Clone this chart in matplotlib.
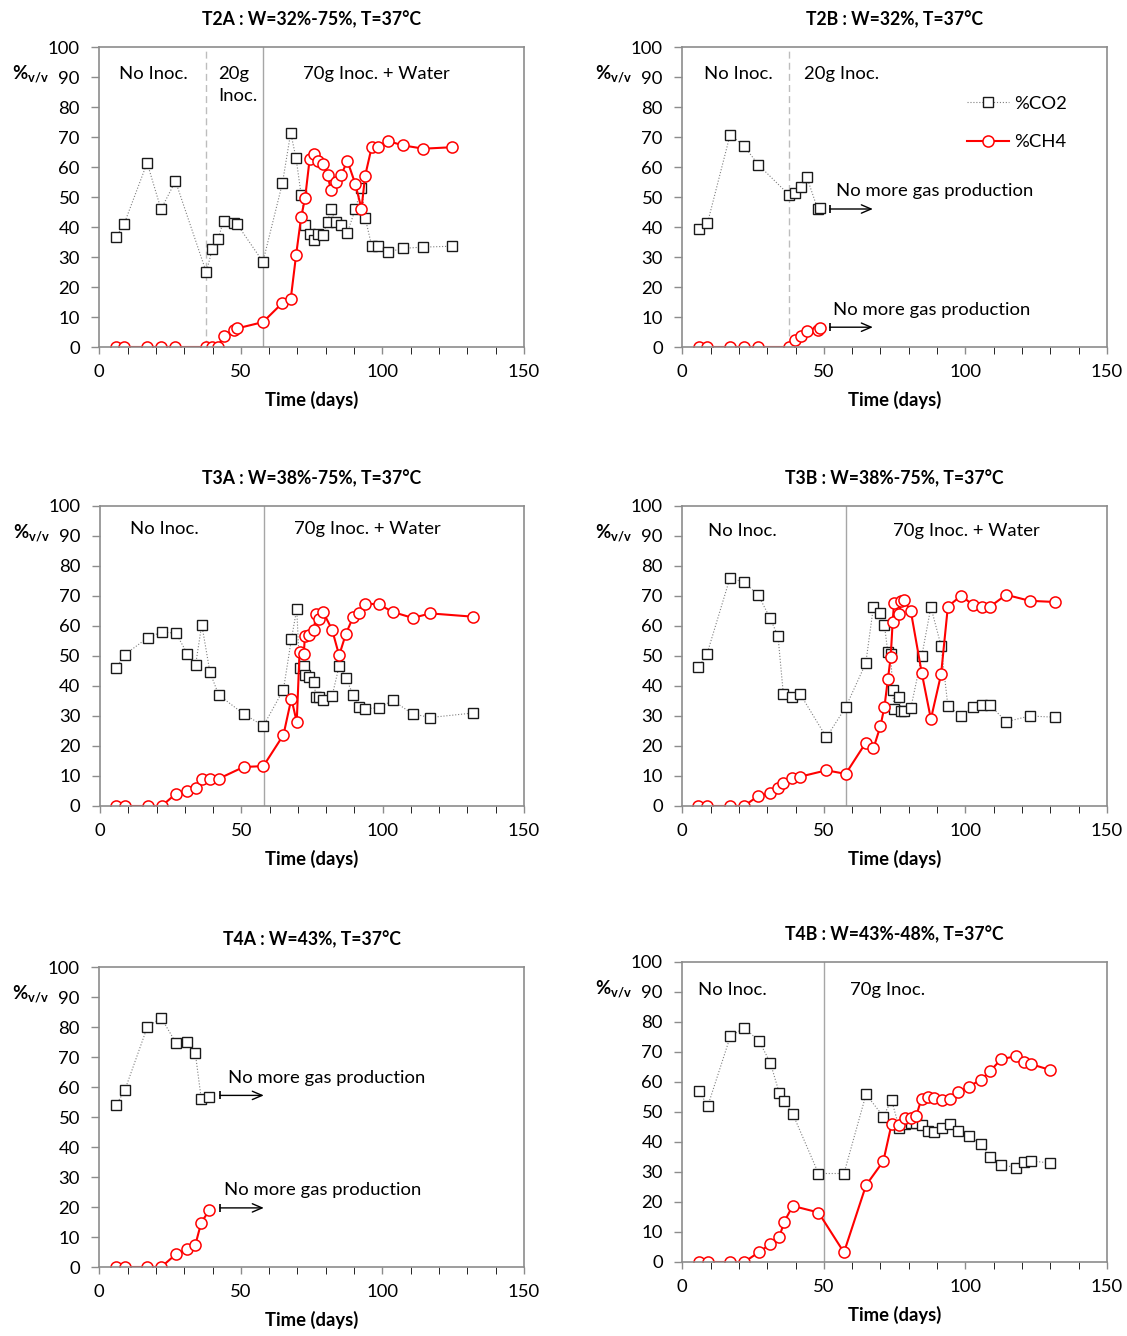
import matplotlib
matplotlib.use("Agg")
import matplotlib.pyplot as plt

plt.rcParams['font.family'] = ['Lato', 'DejaVu Sans']
plt.rcParams['mathtext.fontset'] = 'custom'
plt.rcParams['mathtext.rm'] = 'Lato'
plt.rcParams['mathtext.bf'] = 'Lato:bold'

W, H = 1127, 1336

# ---- data (day, %v/v) ----
t2a_days = [5.9, 8.8, 16.9, 21.8, 26.9, 37.8, 39.9, 41.9, 43.9, 47.5, 48.7, 57.8, 64.7, 67.6, 69.5,
            71.3, 72.7, 74.3, 75.8, 77.4, 78.9, 80.6, 81.8, 83.5, 85.5, 87.6, 90.4, 92.6, 93.9, 96.2,
            98.6, 101.8, 107.3, 114.5, 124.7]
t2a_co2 = [36.7, 41.1, 61.4, 45.9, 55.3, 24.9, 32.7, 35.9, 42.1, 41.4, 40.9, 28.4, 54.7, 71.4, 62.9,
           50.7, 40.7, 37.8, 35.7, 37.7, 37.3, 41.7, 46.0, 41.7, 40.7, 38.1, 45.9, 53.1, 43.1, 33.7,
           33.7, 31.6, 32.9, 33.3, 33.6]
t2a_ch4 = [0, 0, 0, 0, 0, 0, 0, 0, 3.8, 5.6, 6.2, 8.3, 14.7, 15.9, 30.6,
           43.4, 49.7, 62.7, 64.4, 62.1, 61.1, 57.4, 52.3, 54.9, 57.4, 62.1, 54.4, 46.1, 57.1, 66.6,
           66.6, 68.7, 67.2, 66.1, 66.6]

t2b_days = [5.9, 8.9, 16.9, 21.9, 26.9, 37.6, 39.8, 41.9, 44.0, 47.8, 48.8]
t2b_co2 = [39.4, 41.3, 70.8, 66.9, 60.7, 50.8, 51.4, 53.4, 56.6, 46.0, 46.2]
t2b_ch4 = [0, 0, 0, 0, 0, 0, 2.2, 3.8, 5.4, 5.6, 6.2]

t3a_days = [5.7, 8.8, 16.9, 21.8, 26.9, 30.9, 33.8, 36.0, 38.9, 42.0, 50.8, 57.8, 64.9, 67.7, 69.6,
            70.6, 72.1, 72.5, 73.9, 75.7, 76.4, 77.6, 78.9, 82.1, 84.6, 87.0, 89.6, 91.5, 93.9, 98.7,
            103.5, 110.6, 116.9, 132.0]
t3a_co2 = [46.1, 50.5, 56.1, 58.0, 57.6, 50.7, 46.9, 60.5, 44.6, 37.0, 30.7, 26.7, 38.8, 55.6, 65.6,
           46.1, 46.7, 43.6, 43.0, 41.4, 36.2, 36.5, 35.3, 36.6, 46.7, 42.7, 36.9, 33.0, 32.5, 32.7,
           35.2, 30.7, 29.5, 31.0]
t3a_ch4 = [0, 0, 0, 0, 4.1, 4.9, 5.9, 9.1, 9.1, 9.1, 13.0, 13.3, 23.7, 35.8, 28.0,
           51.3, 50.8, 56.7, 57.1, 58.8, 64.1, 62.4, 64.7, 58.8, 50.2, 57.4, 63.1, 64.4, 67.5, 67.2,
           64.7, 62.7, 64.2, 63.1]

t3b_days = [5.7, 8.7, 16.8, 21.8, 26.9, 30.9, 33.8, 35.7, 38.8, 41.7, 50.9, 57.7, 64.8, 67.5, 70.0,
            71.4, 72.6, 73.6, 74.3, 74.8, 76.7, 77.2, 78.2, 80.7, 84.6, 87.8, 91.4, 93.8, 98.5, 102.7,
            105.8, 108.6, 114.4, 122.7, 131.7]
t3b_co2 = [46.2, 50.6, 75.9, 74.7, 70.2, 62.8, 56.6, 37.2, 36.3, 37.2, 22.9, 32.9, 47.6, 66.4, 64.4,
           60.2, 51.2, 50.6, 38.6, 32.5, 36.4, 31.7, 31.7, 32.6, 50.1, 66.3, 53.4, 33.4, 29.9, 33.0,
           33.6, 33.7, 28.1, 30.0, 29.6]
t3b_ch4 = [0, 0, 0, 0, 3.4, 4.2, 5.9, 7.8, 9.5, 9.8, 11.9, 10.7, 21.1, 19.2, 26.7,
           33.1, 42.2, 49.6, 61.4, 67.8, 63.9, 68.4, 68.7, 65.0, 44.2, 29.0, 43.9, 66.5, 70.1, 67.0,
           66.5, 66.4, 70.4, 68.4, 68.0]

t4a_days = [5.9, 9.0, 17.0, 21.9, 27.0, 31.0, 33.9, 36.0, 38.9]
t4a_co2 = [54.0, 58.9, 80.1, 83.0, 74.8, 75.1, 71.4, 56.1, 56.8]
t4a_ch4 = [0, 0, 0, 0, 4.2, 5.9, 7.3, 14.8, 19.0]

t4b_days = [5.9, 9.0, 17.0, 21.9, 27.1, 31.1, 34.2, 36.0, 39.0, 48.1, 57.1, 64.9, 71.0, 73.9, 76.6,
            78.7, 80.6, 82.6, 84.5, 86.7, 88.8, 91.6, 94.5, 97.5, 101.1, 105.5, 108.8, 112.6, 117.8,
            120.8, 123.0, 130.0]
t4b_co2 = [57.0, 52.0, 75.3, 78.0, 73.7, 66.4, 56.5, 53.7, 49.4, 29.5, 29.5, 55.9, 48.5, 54.0, 44.8,
           46.0, 46.5, 46.2, 45.7, 43.8, 43.2, 44.8, 45.9, 43.6, 42.0, 39.2, 35.1, 32.5, 31.4,
           33.4, 33.7, 33.0]
t4b_ch4 = [0, 0, 0, 0, 3.3, 6.0, 8.2, 13.4, 18.7, 16.5, 3.2, 25.6, 33.6, 45.9, 45.8,
           47.9, 47.9, 48.6, 54.5, 55.0, 54.7, 54.0, 54.3, 56.6, 58.4, 60.8, 63.7, 67.6, 68.6,
           66.6, 66.0, 64.0]

fig = plt.figure(figsize=(W / 100, H / 100), dpi=100)

AXCOL = '#8c8c8c'
FS = 13.3
TFS = 12.7


def make_axes(x0, y0, x1, y1):
    return fig.add_axes([x0 / W, 1 - y1 / H, (x1 - x0) / W, (y1 - y0) / H])


def panel(ax, title, days, co2, ch4):
    ax.plot(days, co2, color='#7f7f7f', lw=0.8, ls=':', marker='s', ms=6.8,
            mfc='white', mec='#1a1a1a', mew=1.0, label='%CO2')
    ax.plot(days, ch4, color='#ff0000', lw=1.5, marker='o', ms=8,
            mfc='white', mec='#ff0000', mew=1.1, label='%CH4')
    ax.set_xlim(0, 150)
    ax.set_ylim(0, 100)
    ax.set_xticks([0, 50, 100, 150])
    ax.set_xticks(range(0, 151, 10), minor=True)
    ax.set_yticks(range(0, 101, 10))
    ax.tick_params(axis='both', direction='out', color=AXCOL, labelsize=FS, width=1)
    ax.tick_params(axis='x', which='both', length=5, pad=7)
    ax.tick_params(axis='y', length=6, pad=8)
    for s in ax.spines.values():
        s.set_color(AXCOL)
        s.set_linewidth(1.2)
    ax.set_title(title, fontsize=TFS, fontweight='bold', pad=16)
    ax.set_xlabel('Time (days)', fontsize=FS, fontweight='bold', labelpad=8)
    ax.text(-0.205, 0.91, r'$\mathbf{\%_{v/v}}$', transform=ax.transAxes,
            fontsize=FS, va='center', ha='left')


def vline(ax, x, dashed=False):
    ax.axvline(x, color='#bdbdbd' if dashed else '#a6a6a6', lw=1.0,
               ls=(0, (5, 3)) if dashed else '-', zorder=1)


def note(ax, x, y, s):
    ax.text(x, y, s, fontsize=FS, va='center', ha='left')


def stop_arrow(ax, x0, x1, y):
    ax.plot([x0], [y], marker='|', ms=6, mew=1.2, color='black')
    ax.annotate('', xy=(x1, y), xytext=(x0, y),
                arrowprops=dict(arrowstyle='->,head_length=0.7,head_width=0.3',
                                color='black', lw=1.0, shrinkA=0, shrinkB=0))


# T2A
ax = make_axes(99.3, 47, 524, 347)
panel(ax, 'T2A : W=32%-75%, T=37°C', t2a_days, t2a_co2, t2a_ch4)
vline(ax, 37.8, dashed=True)
vline(ax, 57.8)
note(ax, 7.0, 91, 'No Inoc.')
note(ax, 42.1, 91, '20g')
note(ax, 42.1, 83.7, 'Inoc.')
note(ax, 71.9, 91, '70g Inoc. + Water')

# T2B
ax = make_axes(682.3, 47, 1107, 347)
panel(ax, 'T2B : W=32%, T=37°C', t2b_days, t2b_co2, t2b_ch4)
vline(ax, 37.8, dashed=True)
note(ax, 7.7, 91, 'No Inoc.')
note(ax, 43.1, 91, '20g Inoc.')
note(ax, 54.3, 52, 'No more gas production')
note(ax, 53.2, 12.3, 'No more gas production')
stop_arrow(ax, 52.1, 67.3, 46.0)
stop_arrow(ax, 52.1, 67.3, 6.6)
ax.legend(loc='upper left', bbox_to_anchor=(0.67, 0.837), frameon=False, fontsize=FS,
          handlelength=2.3, handletextpad=0.27, labelspacing=1.22, borderpad=0, borderaxespad=0)

# T3A
ax = make_axes(100, 506, 524, 806)
panel(ax, 'T3A : W=38%-75%, T=37°C', t3a_days, t3a_co2, t3a_ch4)
vline(ax, 57.9)
note(ax, 10.6, 92.2, 'No Inoc.')
note(ax, 68.6, 92.2, '70g Inoc. + Water')

# T3B
ax = make_axes(682.3, 506, 1107, 806)
panel(ax, 'T3B : W=38%-75%, T=37°C', t3b_days, t3b_co2, t3b_ch4)
vline(ax, 57.8)
note(ax, 9.1, 91.7, 'No Inoc.')
note(ax, 74.3, 91.7, '70g Inoc. + Water')

# T4A
ax = make_axes(99.3, 967, 524, 1267)
panel(ax, 'T4A : W=43%, T=37°C', t4a_days, t4a_co2, t4a_ch4)
note(ax, 45.3, 63, 'No more gas production')
note(ax, 44.1, 25.8, 'No more gas production')
stop_arrow(ax, 42.6, 58.1, 57.2)
stop_arrow(ax, 42.6, 58.1, 19.7)

# T4B
ax = make_axes(682.3, 962, 1107, 1262)
panel(ax, 'T4B : W=43%-48%, T=37°C', t4b_days, t4b_co2, t4b_ch4)
vline(ax, 50)
note(ax, 5.4, 90.7, 'No Inoc.')
note(ax, 59.2, 90.7, '70g Inoc.')

fig.savefig('out.png', dpi=100)
